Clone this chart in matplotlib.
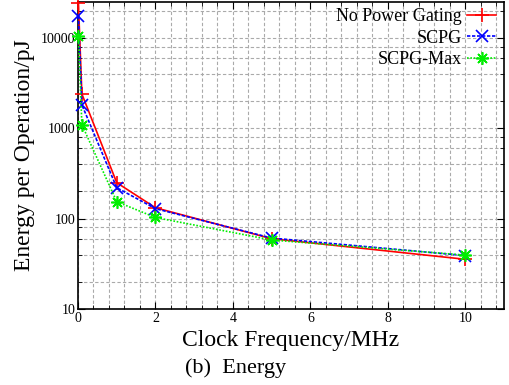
import matplotlib
matplotlib.use("Agg")
import matplotlib.pyplot as plt
from matplotlib.ticker import LogLocator, MultipleLocator, NullFormatter

freq = [0.01, 0.1, 1, 2, 5, 10]
no_pg = [24500, 2400, 250, 132, 60, 35.5]
scpg = [17500, 1820, 220, 129, 61, 39]
scpg_max = [10500, 1100, 154, 103, 58, 39.5]

plt.rcParams['font.family'] = ['Liberation Serif', 'DejaVu Serif']

fig = plt.figure(figsize=(5.1, 3.85), dpi=100)
ax = fig.add_axes([78 / 510, 1 - 309 / 385, (504 - 78) / 510, (309 - 2) / 385])

ax.plot(freq, no_pg, color='red', linestyle='-', lw=1.2, marker='+', ms=10, mew=1.2,
        label='No Power Gating', clip_on=False, zorder=3)
ax.plot(freq, scpg, color='blue', linestyle=(0, (2, 1)), lw=1.2, marker='x', ms=8, mew=1.2,
        label='SCPG', clip_on=False, zorder=3)
ax.plot(freq, scpg_max, color='#00ee00', linestyle=(0, (1, 1)), lw=1.2, marker=(8, 2, 0), ms=9, mew=1.2,
        label='SCPG-Max', clip_on=False, zorder=3)

ax.set_yscale('log')
ax.set_xlim(0, 11)
ax.set_ylim(10, 25000)
ax.xaxis.set_major_locator(MultipleLocator(2))
ax.xaxis.set_minor_locator(MultipleLocator(0.4))
ax.yaxis.set_major_locator(LogLocator(base=10, numticks=10))
ax.yaxis.set_minor_locator(LogLocator(base=10, subs=(2, 4, 6, 8), numticks=10))
ax.yaxis.set_minor_formatter(NullFormatter())
ax.yaxis.set_major_formatter(plt.FuncFormatter(lambda v, p: '%d' % round(v)))

ax.tick_params(which='both', direction='in', top=True, right=True, labelsize=10, pad=2)
ax.tick_params(which='major', length=5)
ax.tick_params(which='minor', length=3)
ax.grid(True, which='both', color='#aaaaaa', linestyle=(0, (3, 2)), lw=0.8)
for s in ax.spines.values():
    s.set_linewidth(1.2)

ax.set_xlabel('Clock Frequency/MHz', fontsize=17, labelpad=4)
ax.set_ylabel('Energy per Operation/pJ', fontsize=17, labelpad=4)
fig.text(236 / 510, 1 - 368 / 385, '(b)  Energy', ha='center', va='center', fontsize=16)

leg = ax.legend(loc='upper right', bbox_to_anchor=(496 / 510, 1 - 8 / 385),
                bbox_transform=fig.transFigure, frameon=False, markerfirst=False,
                fontsize=13, handlelength=1.6, borderaxespad=0, labelspacing=0.26,
                handletextpad=0.3, borderpad=0)

fig.savefig('out.png', dpi=100)
